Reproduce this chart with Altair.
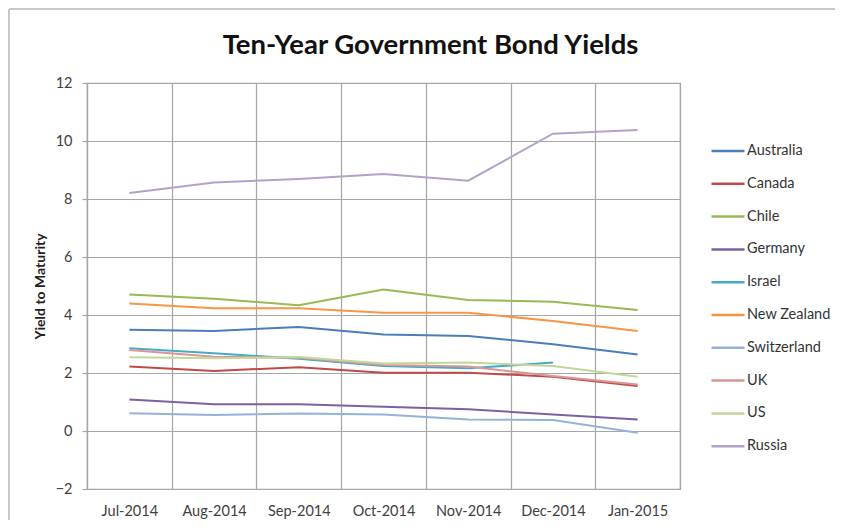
import altair as alt
import pandas as pd

months = ["Jul-2014", "Aug-2014", "Sep-2014", "Oct-2014", "Nov-2014", "Dec-2014", "Jan-2015"]
countries = ["Australia", "Canada", "Chile", "Germany", "Israel", "New Zealand",
             "Switzerland", "UK", "US", "Russia"]

australia = [3.49, 3.45, 3.59, 3.33, 3.28, 2.99, 2.64]
canada = [2.22, 2.07, 2.20, 2.01, 2.01, 1.87, 1.55]
chile = [4.71, 4.56, 4.34, 4.88, 4.52, 4.46, 4.17]
germany = [1.09, 0.92, 0.92, 0.84, 0.75, 0.57, 0.40]
israel = [2.85, 2.68, 2.49, 2.24, 2.16, 2.36, None]
new_zealand = [4.40, 4.23, 4.23, 4.08, 4.08, 3.79, 3.45]
switzerland = [0.61, 0.55, 0.60, 0.57, 0.40, 0.38, -0.06]
uk = [2.79, 2.56, 2.53, 2.28, 2.22, 1.90, 1.60]
us = [2.54, 2.51, 2.55, 2.33, 2.36, 2.24, 1.87]
russia = [8.21, 8.57, 8.69, 8.86, 8.63, 10.25, 10.38]

colors = ["#4A7EBB", "#BE4B48", "#98B954", "#7D60A0", "#46AAC5", "#F79646",
          "#95B3D7", "#DA9694", "#C3D69B", "#B3A2C7"]

series = [australia, canada, chile, germany, israel, new_zealand,
          switzerland, uk, us, russia]

rows = []
for name, vals in zip(countries, series):
    for m, v in zip(months, vals):
        if v is not None:
            rows.append({"Month": m, "Country": name, "Yield": v})
df = pd.DataFrame(rows)

FONT = "Lato"
GRID = "#a6a6a6"
FS = 14.5

lines = alt.Chart(df).mark_line(strokeWidth=2).encode(
    x=alt.X("Month:O", sort=months,
            scale=alt.Scale(type="band", paddingInner=0, paddingOuter=0),
            axis=alt.Axis(title=None, grid=True, tickBand="extent", ticks=False,
                          domain=False, labelAngle=0, labelPadding=15,
                          labelFont=FONT, labelFontSize=FS, labelColor="#404040",
                          gridColor=GRID, gridWidth=1.2)),
    y=alt.Y("Yield:Q",
            scale=alt.Scale(domain=[-2, 12], nice=False, zero=False),
            axis=alt.Axis(title="Yield to Maturity", values=[-2, 0, 2, 4, 6, 8, 10, 12],
                          grid=True, gridColor=GRID, gridWidth=1.2,
                          domain=True, domainColor=GRID, domainWidth=1.2,
                          ticks=True, tickSize=5, tickColor=GRID, tickWidth=1.2,
                          labelPadding=10, labelFont=FONT, labelFontSize=FS,
                          labelColor="#404040",
                          titleFont=FONT, titleFontSize=14, titleFontWeight="bold",
                          titleColor="#222222", titleX=-47, titleY=203,
                          titleBaseline="middle", titleAlign="center", titleAngle=-90)),
    color=alt.Color("Country:N",
                    scale=alt.Scale(domain=countries, range=colors),
                    legend=alt.Legend(title=None, orient="none", legendX=623, legendY=50,
                                      symbolType="stroke", symbolSize=1089,
                                      symbolStrokeWidth=2.5, rowPadding=7.8, padding=0,
                                      labelOffset=1, labelFont=FONT, labelFontSize=FS,
                                      labelColor="#333333")),
    detail="Country:N",
)

frame_left = alt.Chart(df).mark_rule(color="#c8c8c8", strokeWidth=2).encode(
    x=alt.value(-78), y=alt.value(-74), y2=alt.value(440))
frame_top = alt.Chart(df).mark_rule(color="#c8c8c8", strokeWidth=2).encode(
    x=alt.value(-78), x2=alt.value(754), y=alt.value(-74))

chart = alt.layer(frame_left, frame_top, lines).properties(
    width=593, height=406,
    padding={"left": 79, "top": 75, "right": 155, "bottom": 31},
    autosize=alt.AutoSizeParams(type="none"),
    title=alt.TitleParams("Ten-Year Government Bond Yields", font=FONT, fontSize=27.5,
                          fontWeight="bold", color="#111111", anchor="middle",
                          dx=47, dy=77, offset=26),
).configure_view(stroke=GRID, strokeWidth=1.2)

chart.save("out.html", embed_options={"renderer": "svg", "actions": False})
